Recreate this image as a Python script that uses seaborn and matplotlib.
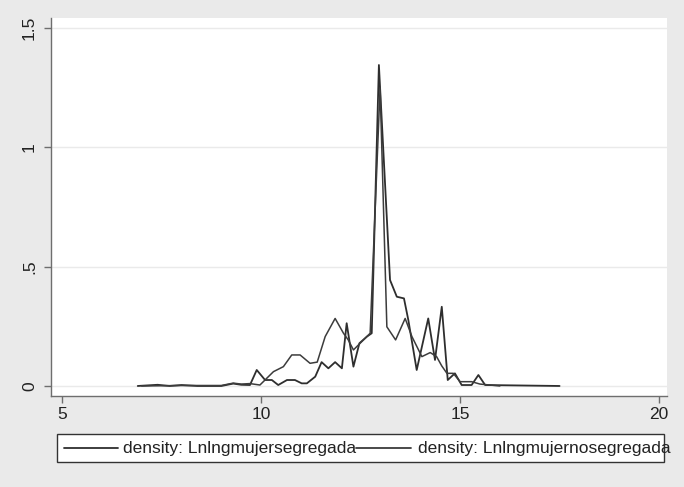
import pandas as pd
import seaborn as sns
import matplotlib.pyplot as plt
from matplotlib.lines import Line2D
from matplotlib.patches import Rectangle

# density: Lnlngmujersegregada
x_seg = [6.9, 7.4, 7.7, 8.0, 8.4, 9.0, 9.3, 9.5, 9.72, 9.89, 10.10, 10.27, 10.43, 10.65,
         10.85, 11.02, 11.15, 11.36, 11.52, 11.69, 11.86, 12.03, 12.15, 12.32, 12.47,
         12.66, 12.78, 12.96, 13.24, 13.41, 13.59, 13.70, 13.91, 14.20, 14.37, 14.54,
         14.69, 14.87, 15.04, 15.29, 15.46, 15.63, 17.5]
y_seg = [0, 0.005, 0, 0.004, 0, 0, 0.01, 0.005, 0.004, 0.067, 0.025, 0.025, 0.004, 0.025,
         0.025, 0.011, 0.011, 0.039, 0.10, 0.074, 0.10, 0.074, 0.263, 0.081, 0.179,
         0.207, 0.221, 1.345, 0.444, 0.374, 0.367, 0.276, 0.067, 0.283, 0.109, 0.332,
         0.025, 0.053, 0.004, 0.004, 0.046, 0.004, 0.0]

# density: Lnlngmujernosegregada
x_noseg = [7.0, 8.0, 9.0, 9.3, 9.5, 9.72, 9.97, 10.31, 10.56, 10.77, 10.98, 11.23, 11.41,
           11.61, 11.86, 12.07, 12.19, 12.32, 12.47, 12.74, 12.99, 13.16, 13.38, 13.62,
           13.79, 14.04, 14.25, 14.41, 14.54, 14.67, 14.83, 15.0, 15.29, 15.5, 16.0]
y_noseg = [0, 0.002, 0.002, 0.012, 0.008, 0.01, 0.004, 0.06, 0.081, 0.13, 0.13, 0.095, 0.10,
           0.207, 0.283, 0.221, 0.193, 0.151, 0.176, 0.221, 1.25, 0.248, 0.193, 0.283,
           0.207, 0.123, 0.14, 0.123, 0.084, 0.053, 0.053, 0.018, 0.018, 0.008, 0.0]

labels = ['density: Lnlngmujersegregada', 'density: Lnlngmujernosegregada']
xticks = [5, 10, 15, 20]
yticks = [0, 0.5, 1, 1.5]
ytick_labels = ['0', '.5', '1', '1.5']

sns.set_style('white')
plt.rcParams['font.family'] = ['Liberation Sans', 'DejaVu Sans']

W, H = 684, 487
fig = plt.figure(figsize=(W / 100, H / 100), dpi=100, facecolor='#EAEAEA')
ax = fig.add_axes([51 / W, 1 - 396 / H, (667 - 51) / W, (396 - 18) / H])
ax.set_facecolor('white')

df_seg = pd.DataFrame({'x': x_seg, 'y': y_seg})
df_noseg = pd.DataFrame({'x': x_noseg, 'y': y_noseg})
line_colors = ['#2E2E2E', '#3C3C3C']
sns.lineplot(data=df_seg, x='x', y='y', ax=ax, color=line_colors[0], lw=1.3, sort=False)
sns.lineplot(data=df_noseg, x='x', y='y', ax=ax, color=line_colors[1], lw=1.1, sort=False)

ax.set_xlim(4.72, 20.2)
ax.set_ylim(-0.042, 1.542)
ax.set_xticks(xticks)
ax.set_xticklabels([str(t) for t in xticks])
ax.set_yticks(yticks)
ax.set_yticklabels(ytick_labels, rotation=90, va='center')
ax.set_xlabel('')
ax.set_ylabel('')
for y in yticks:
    ax.axhline(y, color='#EAEAEA', lw=1, zorder=0)

for s in ['top', 'right']:
    ax.spines[s].set_visible(False)
for s in ['left', 'bottom']:
    ax.spines[s].set_color('#6E6E6E')
    ax.spines[s].set_linewidth(1)
ax.tick_params(direction='out', length=5, width=1, color='#6E6E6E',
               labelsize=12.5, labelcolor='#222222', left=True, bottom=True)
ax.tick_params(axis='x', pad=3)
ax.tick_params(axis='y', pad=5)

# legend box, stata style (text runs over the frame)
fig.patches.append(Rectangle((57 / W, 1 - 462 / H), (664 - 57) / W, 28 / H,
                             transform=fig.transFigure, facecolor='white',
                             edgecolor='#333333', lw=1))
ly = 1 - 448 / H
fig.lines.append(Line2D([64 / W, 118 / W], [ly, ly], transform=fig.transFigure,
                        color=line_colors[0], lw=1.3))
fig.text(123 / W, ly, labels[0], fontsize=12.5, va='center', color='#222222')
fig.lines.append(Line2D([356 / W, 411 / W], [ly, ly], transform=fig.transFigure,
                        color=line_colors[1], lw=1.3))
fig.text(418 / W, ly, labels[1], fontsize=12.5, va='center', color='#222222')

fig.savefig('out.png', dpi=100, facecolor=fig.get_facecolor())
